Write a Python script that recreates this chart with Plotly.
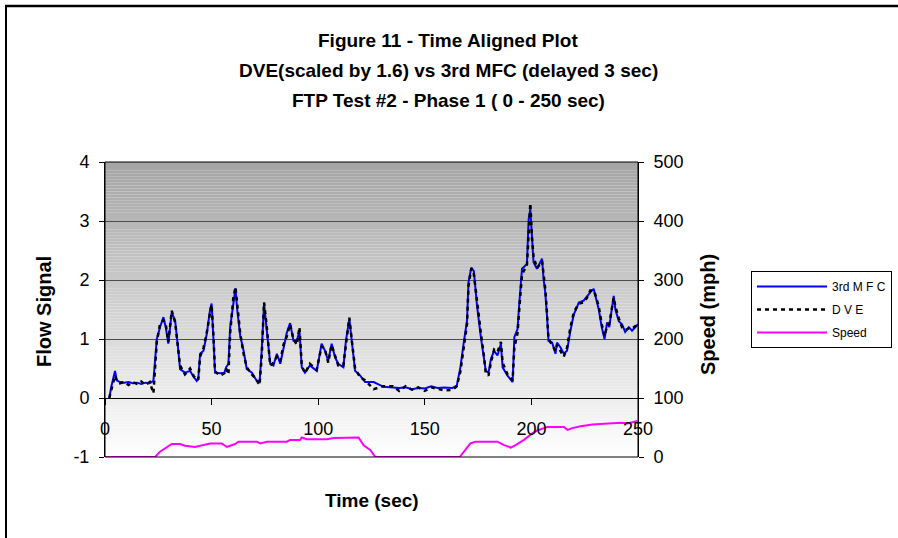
import plotly.graph_objects as go

# ---------------- data ----------------
time_s = [2, 3, 4.7, 5.5, 7, 9, 11, 13, 15, 17, 19, 21, 22.7, 24.3, 25.8, 27.4, 28.5, 29.7, 31.3, 32.9,
          34.4, 35.2, 37.5, 39.9, 41.5, 43, 43.8, 44.6, 46.2, 47.7, 49.3, 50, 50.9, 51.6, 54, 56, 56.8, 57.9,
          58.7, 60.2, 61.2, 62, 63.4, 65, 66.5, 68.9, 71.2, 72.5, 73.5, 74.6, 75.9, 77.5, 79, 80.6, 82.2,
          83.7, 85.3, 86.8, 88.4, 90, 91.2, 92.3, 93.8, 96.1, 99.3, 101.6, 103.2, 104.7, 106.3, 107.9,
          109.4, 111.8, 113, 114.6, 115.7, 117.3, 119.7, 122, 126, 130.7, 135, 138, 141, 144, 147, 150,
          153, 156, 159, 163, 165, 166.7, 168.2, 169.8, 170.5, 171.8, 173, 174.5, 176.3, 177.8, 178.6,
          179.9, 181, 182.5, 184.1, 185.7, 186.5, 188.8, 191.2, 192, 193.5, 194.3, 195.6, 197.9, 198.7,
          199.5, 200.3, 201, 202.6, 205, 205.7, 206.5, 207.3, 208, 209.7, 211.3, 212, 213.6, 215.2, 216.7,
          218.3, 219.9, 221.4, 222.2, 224.5, 226.1, 227.6, 229.2, 230, 231.6, 233, 234.3, 235.5, 236.5,
          238.6, 239.4, 241, 242.5, 244, 245.7, 247.2, 248.8, 250]

mfc3 = [0.0, 0.2, 0.46, 0.3, 0.27, 0.26, 0.27, 0.25, 0.26, 0.24, 0.26, 0.25, 0.29, 1.0, 1.2, 1.37, 1.2, 0.92, 1.45, 1.31,
        0.8, 0.49, 0.43, 0.46, 0.36, 0.29, 0.35, 0.75, 0.8, 1.08, 1.5, 1.6, 0.97, 0.43, 0.42, 0.43, 0.52, 0.58,
        1.2, 1.65, 1.86, 1.5, 1.06, 0.8, 0.49, 0.43, 0.29, 0.27, 0.8, 1.6, 1.14, 0.58, 0.55, 0.75, 0.58,
        0.86, 1.11, 1.27, 0.97, 0.97, 1.14, 0.52, 0.43, 0.55, 0.46, 0.92, 0.8, 0.63, 0.92, 0.69,
        0.58, 0.52, 0.97, 1.34, 0.97, 0.46, 0.38, 0.27, 0.27, 0.19, 0.18, 0.17, 0.18, 0.15, 0.17, 0.16,
        0.2, 0.17, 0.18, 0.17, 0.21, 0.52, 0.92, 1.31, 1.96, 2.21, 2.15, 1.56, 1.03, 0.66, 0.46,
        0.43, 0.66, 0.8, 0.72, 0.92, 0.52, 0.38, 0.27, 1.03, 1.17, 1.6, 2.19, 2.27, 3.03,
        3.2, 2.8, 2.3, 2.19, 2.36, 2.02, 1.79, 1.4, 0.97, 0.94, 0.75, 0.94, 0.86, 0.75, 0.8,
        1.14, 1.42, 1.54, 1.62, 1.65, 1.73, 1.79, 1.85, 1.73, 1.5, 1.2, 1.0, 1.28, 1.2,
        1.73, 1.5, 1.3, 1.25, 1.12, 1.2, 1.14, 1.2, 1.25]

dve = [0.0, 0.15, 0.38, 0.3, 0.25, 0.27, 0.22, 0.27, 0.24, 0.28, 0.22, 0.27, 0.08, 0.95, 1.25, 1.32, 1.25, 0.95, 1.48, 1.28,
       0.85, 0.55, 0.4, 0.5, 0.38, 0.3, 0.32, 0.7, 0.85, 1.1, 1.45, 1.58, 1.05, 0.45, 0.38, 0.42, 0.5, 0.4,
       1.1, 1.7, 1.88, 1.6, 1.1, 0.75, 0.52, 0.4, 0.3, 0.22, 0.7, 1.62, 1.2, 0.55, 0.6, 0.7, 0.62,
       0.9, 1.05, 1.25, 1.0, 0.9, 1.2, 0.55, 0.42, 0.58, 0.48, 0.88, 0.82, 0.6, 0.9, 0.72,
       0.55, 0.55, 0.9, 1.36, 1.0, 0.5, 0.35, 0.3, 0.15, 0.2, 0.2, 0.12, 0.2, 0.14, 0.18, 0.12,
       0.18, 0.15, 0.13, 0.14, 0.2, 0.45, 0.85, 1.25, 1.9, 2.2, 2.1, 1.6, 1.1, 0.7, 0.42,
       0.38, 0.6, 0.82, 0.78, 0.95, 0.6, 0.4, 0.3, 0.85, 1.1, 1.5, 2.1, 2.25, 2.9,
       3.3, 2.7, 2.4, 2.2, 2.32, 2.1, 1.85, 1.45, 1.0, 0.9, 0.8, 0.9, 0.8, 0.7, 0.85,
       1.2, 1.45, 1.55, 1.6, 1.62, 1.7, 1.82, 1.82, 1.75, 1.55, 1.25, 1.05, 1.22, 1.25,
       1.7, 1.55, 1.35, 1.2, 1.15, 1.18, 1.18, 1.22, 1.28]

speed_time = [0, 23.5, 25.8, 29, 31.3, 35.2, 37.5, 42.2, 44.6, 47.7, 49.3, 54.8, 57.1, 58.7, 61, 62.6, 71.2,
              72.8, 75.9, 85.3, 86.8, 91.5, 92.3, 94.6, 104, 107.2, 113.5, 118.9, 121.3, 124.4, 126.8, 166.4,
              169, 171.4, 173.8, 184, 187.2, 190.3, 192.6, 196.5, 200.4, 202.8, 207.5, 215.3, 216.9, 219.2,
              223.1, 228.6, 241.9, 245, 249.7]
speed_mph = [0, 0, 9, 17, 22, 22, 19, 17, 19, 22, 23, 23, 17, 19, 22, 26, 26,
             23, 26, 26, 29, 29, 33, 30, 30, 32, 33, 33, 20, 12, 0, 0,
             12, 23, 26, 26, 20, 16, 20, 29, 40, 45, 51, 51, 46, 49,
             52, 55, 58, 57, 61]

flow_ticks = [-1, 0, 1, 2, 3, 4]
flow_tick_text = ["-1", "0", "1", "2", "3", "4"]

title_lines = ["Figure 11 - Time Aligned Plot",
               "DVE(scaled by 1.6) vs 3rd MFC (delayed 3 sec)",
               "FTP Test #2 - Phase 1 ( 0 - 250 sec)"]

# ---------------- figure ----------------
W, H = 898, 538
L, R, T, B = 105, 260, 162, 81
pw, ph = W - L - R, H - T - B

def px_x(x):
    return (x - L) / pw

def px_y(y):
    return (H - B - y) / ph

FONT = "Liberation Sans, Arial, sans-serif"

fig = go.Figure()
fig.add_trace(go.Scatter(x=time_s, y=mfc3, mode="lines", name="3rd M F C",
                         line=dict(color="#0000ff", width=2), legendgroup="a"))
fig.add_trace(go.Scatter(x=time_s, y=dve, mode="lines", name="D V E",
                         line=dict(color="black", width=2.5, dash="4px,4px"), legendgroup="b"))
fig.add_trace(go.Scatter(x=speed_time, y=speed_mph, mode="lines", name="Speed", yaxis="y2",
                         line=dict(color="#ff00ff", width=2), legendgroup="c"))

# gradient background (bands)
shapes = []
n = 100
for i in range(n):
    f0, f1 = i / n, (i + 1) / n
    g = int(round(255 - ((f0 + f1) / 2) * (255 - 164)))
    shapes.append(dict(type="rect", xref="x domain", yref="y domain", x0=0, x1=1, y0=f0, y1=f1,
                       line=dict(width=0), fillcolor=f"rgb({g},{g},{g})", layer="below"))
# plot border
shapes.append(dict(type="rect", xref="x domain", yref="y domain", x0=0, x1=1, y0=0, y1=1,
                   line=dict(color="black", width=1), fillcolor="rgba(0,0,0,0)", layer="above"))
# outer frame (top and left)
shapes.append(dict(type="line", xref="paper", yref="paper", x0=px_x(5), x1=px_x(898), y0=px_y(6), y1=px_y(6),
                   line=dict(color="black", width=2.5)))
shapes.append(dict(type="line", xref="paper", yref="paper", x0=px_x(6), x1=px_x(6), y0=px_y(5), y1=px_y(538),
                   line=dict(color="black", width=2)))

annotations = []
for i, (txt, yp) in enumerate(zip(title_lines, [40, 70, 100])):
    annotations.append(dict(text=f"<b>{txt}</b>", xref="paper", yref="paper", x=px_x(448), y=px_y(yp),
                            xanchor="center", yanchor="middle", showarrow=False,
                            font=dict(family=FONT, size=19, color="black")))
annotations.append(dict(text="<b>Flow Signal</b>", xref="paper", yref="paper", x=px_x(44), y=px_y(312),
                        textangle=-90, xanchor="center", yanchor="middle", showarrow=False,
                        font=dict(family=FONT, size=20, color="black")))
annotations.append(dict(text="<b>Speed (mph)</b>", xref="paper", yref="paper", x=px_x(708), y=px_y(315),
                        textangle=-90, xanchor="center", yanchor="middle", showarrow=False,
                        font=dict(family=FONT, size=20, color="black")))
annotations.append(dict(text="<b>Time (sec)</b>", xref="paper", yref="paper", x=px_x(372), y=px_y(500),
                        xanchor="center", yanchor="middle", showarrow=False,
                        font=dict(family=FONT, size=19, color="black")))

fig.update_layout(
    width=W, height=H,
    margin=dict(l=L, r=R, t=T, b=B, pad=0),
    paper_bgcolor="white", plot_bgcolor="white",
    font=dict(family=FONT, size=18, color="black"),
    showlegend=True,
    legend=dict(xref="container", yref="container", x=751 / W, y=1 - 271 / H,
                xanchor="left", yanchor="top", bgcolor="white", bordercolor="black", borderwidth=1,
                font=dict(family=FONT, size=12, color="black"), itemwidth=70,
                tracegroupgap=4, traceorder="grouped"),
    xaxis=dict(range=[0, 250], dtick=50, tick0=0, anchor="free", position=0.2,
               showline=True, linecolor="black", linewidth=1, ticks="outside", ticklen=6,
               tickcolor="black", showgrid=False, zeroline=False, ticklabelstandoff=8,
               tickfont=dict(size=18)),
    yaxis=dict(range=[-1, 4], tickmode="array", tickvals=flow_ticks, ticktext=flow_tick_text,
               showline=True, linecolor="black", linewidth=1,
               ticks="outside", ticklen=5, tickcolor="black", showgrid=True, gridcolor="#4d4d4d",
               gridwidth=1, zeroline=False, ticklabelstandoff=6, tickfont=dict(size=18)),
    yaxis2=dict(range=[0, 500], dtick=100, tick0=0, overlaying="y", side="right", anchor="x",
                showline=True, linecolor="black", linewidth=1, ticks="outside", ticklen=5,
                tickcolor="black", showgrid=False, zeroline=False, ticklabelstandoff=6,
                tickfont=dict(size=18)),
    shapes=shapes,
    annotations=annotations,
)

fig.write_html("out.html", config={"displayModeBar": False},
               post_script="document.body.style.margin='0';document.body.style.padding='0';")
